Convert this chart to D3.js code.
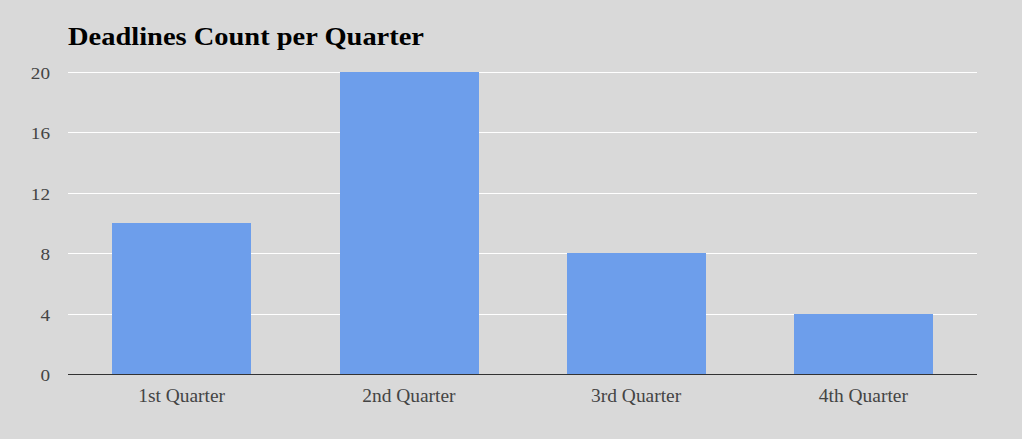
<!DOCTYPE html>
<html><head><meta charset="utf-8">
<script src="https://cdn.jsdelivr.net/npm/d3@7"></script>
<style>
html,body{margin:0;padding:0;background:#d9d9d9;}
svg{display:block;}
</style></head>
<body>
<script>
const categories = ["1st Quarter", "2nd Quarter", "3rd Quarter", "4th Quarter"];
const values = [10, 20, 8, 4];
const yTicks = [0, 4, 8, 12, 16, 20];
const title = "Deadlines Count per Quarter";

const W = 1022, H = 439;
const m = {left: 68, right: 45, top: 72, bottom: 65};
const svg = d3.select("body").append("svg").attr("width", W).attr("height", H);
svg.append("rect").attr("width", W).attr("height", H).attr("fill", "#d9d9d9");

const x = d3.scaleBand().domain(categories).range([m.left, W - m.right]).paddingInner(0.39).paddingOuter(0.195);
const y = d3.scaleLinear().domain([0, 20]).range([H - m.bottom, m.top]);

const serif = "Georgia, 'Liberation Serif', 'DejaVu Serif', serif";

function stretch(sel, factor) {
  sel.each(function() {
    const w = this.getComputedTextLength();
    d3.select(this).attr("textLength", w * factor).attr("lengthAdjust", "spacingAndGlyphs");
  });
}

// gridlines
svg.append("g").selectAll("line").data(yTicks.filter(d => d !== 0)).join("line")
  .attr("x1", m.left).attr("x2", W - m.right)
  .attr("y1", d => Math.round(y(d)) + 0.5).attr("y2", d => Math.round(y(d)) + 0.5)
  .attr("stroke", "#ffffff").attr("stroke-width", 1);

// bars
svg.append("g").selectAll("rect").data(values).join("rect")
  .attr("x", (d, i) => Math.round(x(categories[i])))
  .attr("width", Math.round(x.bandwidth()))
  .attr("y", d => Math.round(y(d)))
  .attr("height", d => Math.round(y(0)) - Math.round(y(d)))
  .attr("fill", "#6d9eeb");

// baseline
svg.append("line").attr("x1", m.left).attr("x2", W - m.right)
  .attr("y1", Math.round(y(0)) + 0.5).attr("y2", Math.round(y(0)) + 0.5)
  .attr("stroke", "#333333").attr("stroke-width", 1.2);

// y tick labels
const yAxis = d3.axisLeft(y).tickValues(yTicks).tickSize(0).tickPadding(0);
const gy = svg.append("g").attr("transform", `translate(50,0)`).call(yAxis);
gy.select(".domain").remove();
gy.selectAll("text").attr("font-family", serif).attr("font-size", 16).attr("fill", "#444444").attr("dy", "0.4em");
stretch(gy.selectAll("text"), 1.2);

// x labels
const xAxis = d3.axisBottom(x).tickSize(0).tickPadding(0);
const gx = svg.append("g").attr("transform", `translate(0,${y(0)})`).call(xAxis);
gx.select(".domain").remove();
gx.selectAll("text").attr("font-family", serif).attr("font-size", 18).attr("fill", "#444444").attr("dy", "1.55em");
stretch(gx.selectAll("text"), 1.08);

// title
const t = svg.append("text").attr("x", 68).attr("y", 45).text(title)
  .attr("font-family", serif).attr("font-weight", "bold").attr("font-size", 25).attr("fill", "#000");
t.attr("textLength", 356).attr("lengthAdjust", "spacingAndGlyphs");
</script>
</body></html>
